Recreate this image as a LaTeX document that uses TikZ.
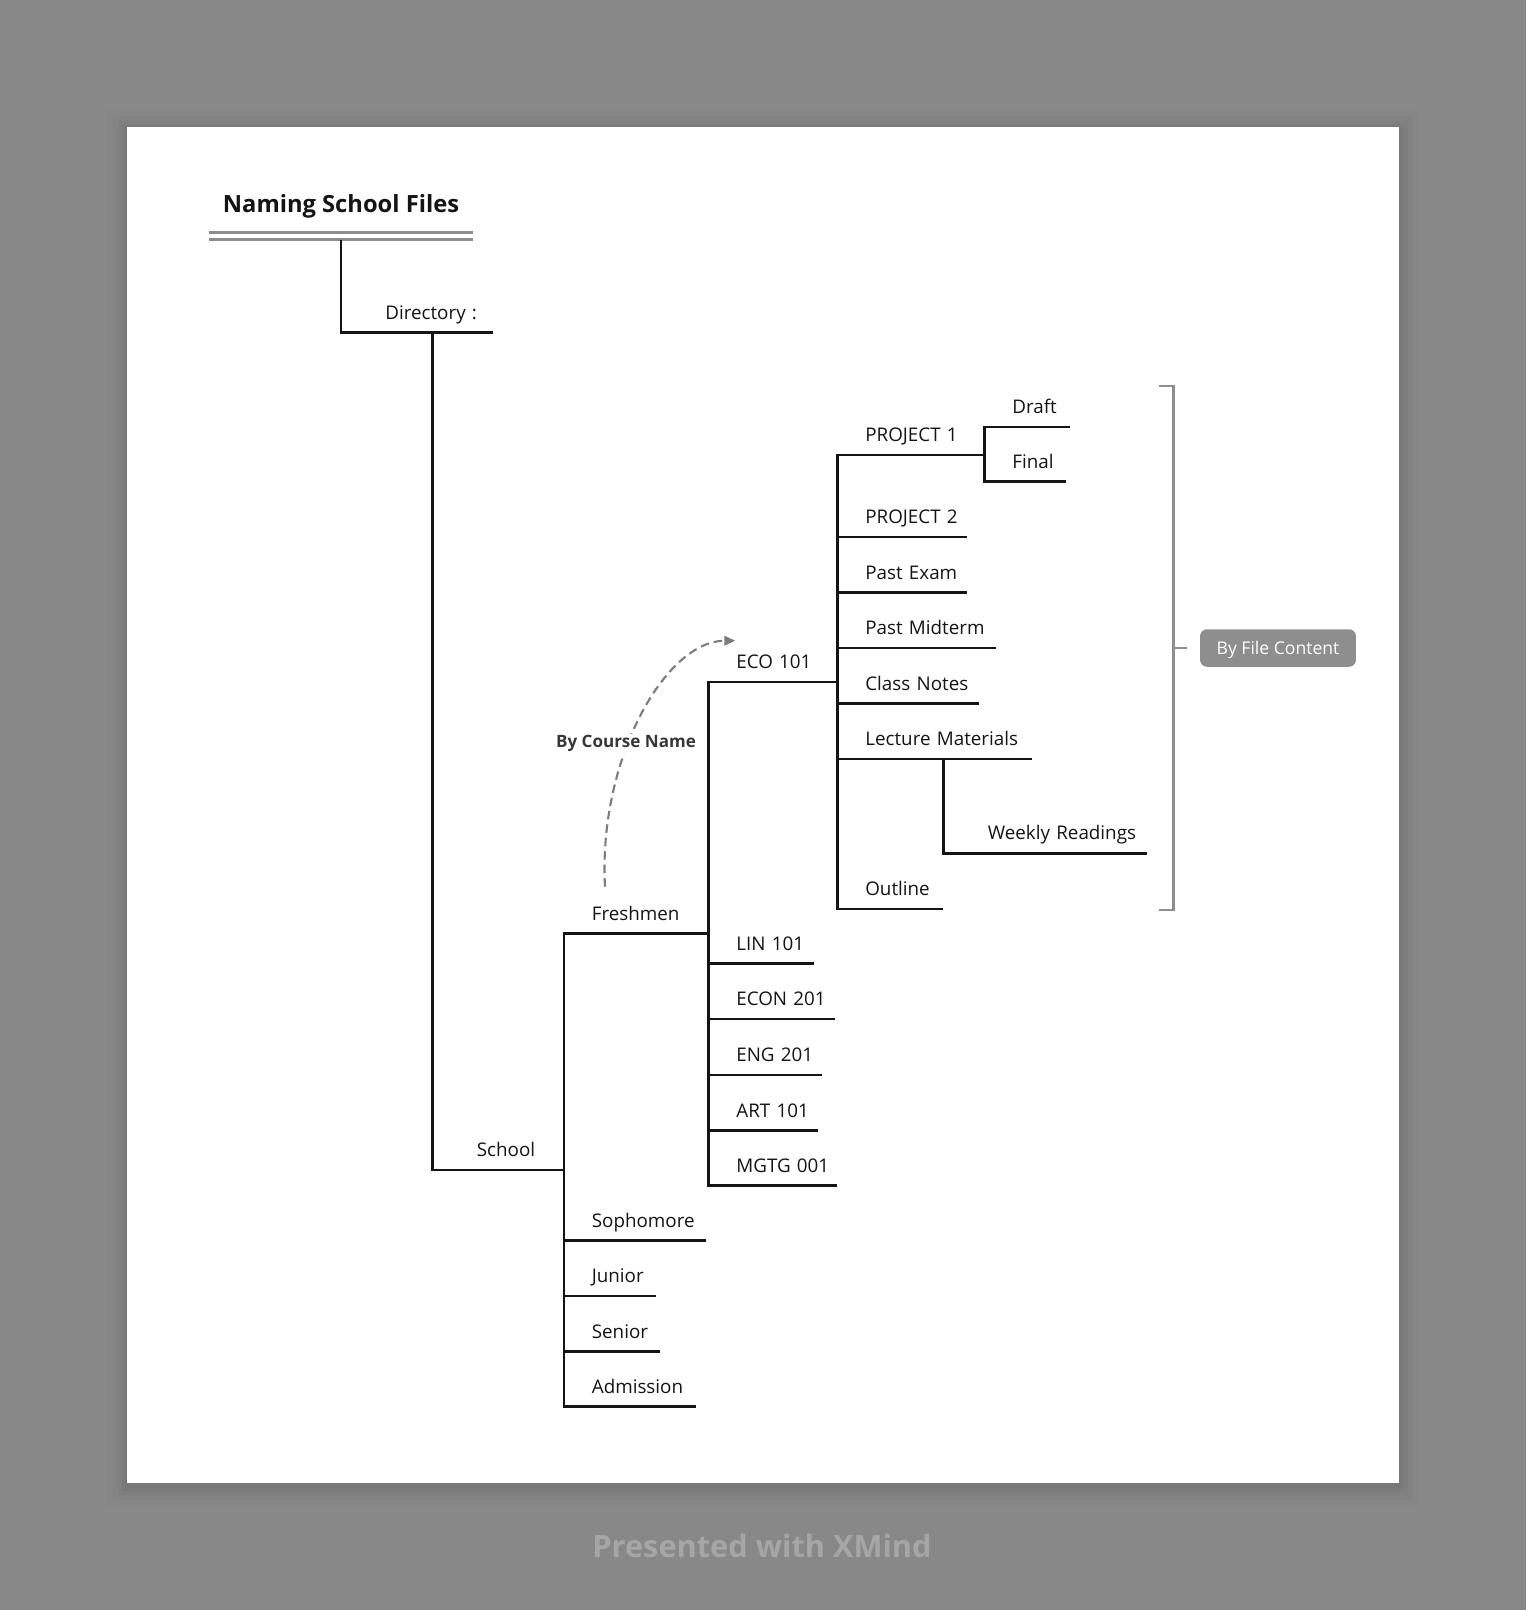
\documentclass[tikz,border=0pt]{standalone}
\usepackage{fontspec}
\setmainfont{Open Sans}
\usepackage{tikz}
\usetikzlibrary{arrows.meta,calc}
\definecolor{canvas}{HTML}{888888}
\definecolor{ink}{HTML}{141414}
\definecolor{rulegray}{HTML}{8E8E8E}
\definecolor{relation}{HTML}{7C7C7C}
\definecolor{creditgray}{HTML}{A6A6A6}
\newcommand{\topicfont}{\fontsize{10.7}{13}\selectfont}

\tikzset{
  branch/.style={ink,line width=0.05cm,line join=miter},
  topicbase/.style={anchor=south west,inner xsep=0pt,inner ysep=0.26cm,text depth=0pt,
    text width=#1,align=left,font=\topicfont,text=ink},
  topic/.style={topicbase=#1,execute at begin node={\hspace*{0.56cm}}},
  firsttopic/.style={topicbase=#1,execute at begin node={\hspace*{0.88cm}}},
  maintitle/.style={anchor=south,minimum width=5.28cm,inner xsep=0pt,inner ysep=0.526cm,
    text depth=0pt,text=ink,font=\bfseries\fontsize{13.5}{16}\selectfont},
  titlerule/.style={rulegray,line width=0.046cm},
  summary/.style={rulegray,line width=0.05cm,line join=miter},
  tag/.style={fill=rulegray,text=white,rounded corners=0.14cm,minimum width=3.12cm,
    minimum height=0.75cm,inner sep=0pt,text height=0.714em,text depth=0pt,
    font=\fontsize{10}{12}\selectfont},
  relarrow/.style={relation,line width=0.042cm,dash pattern=on 0.17cm off 0.1cm,
    -{Triangle[length=0.22cm,width=0.19cm]}},
  rellabel/.style={anchor=base,fill=white,inner sep=1pt,text=ink!85,
    font=\bfseries\fontsize{9.7}{12}\selectfont},
}

\begin{document}
\begin{tikzpicture}[x=0.02cm,y=-0.02cm]
  \useasboundingbox (0,0) rectangle (1526,1610);
  \fill[canvas] (0,0) rectangle (1526,1610);

  % page and its shadow
  \foreach \s/\o in {20/0.012,14/0.018,9/0.022,5/0.028,2/0.03} {
    \fill[black,opacity=\o] (127-\s,127-\s+3) rectangle (1399+\s,1483+\s+3);
  }
  \fill[white] (127,127) rectangle (1399,1483);

  % Title
  \node[maintitle] (title) at (341,239.5) {Naming School Files};
  \draw[titlerule] (title.south west) -- (title.south east);
  \draw[titlerule] ([yshift=0.14cm]title.south west) -- ([yshift=0.14cm]title.south east);

  % Topics
  \node[firsttopic=3.02cm] (dir) at (341,332.7) {Directory :};
  \node[firsttopic=2.62cm] (school) at (432.5,1170) {School};

  \node[topic=2.89cm] (fresh) at (563.5,933.5) {Freshmen};
  \node[topic=2.84cm] (soph) at (563.5,1240.5) {Sophomore};
  \node[topic=1.84cm] (junior) at (563.5,1296) {Junior};
  \node[topic=1.92cm] (senior) at (563.5,1351.7) {Senior};
  \node[topic=2.63cm] (admission) at (563.5,1406.5) {Admission};

  \node[topic=2.58cm] (eco) at (708,681.9) {ECO 101};
  \node[topic=2.11cm] (lin) at (708,963.5) {LIN 101};
  \node[topic=2.53cm] (econ) at (708,1019.2) {ECON 201};
  \node[topic=2.26cm] (eng) at (708,1075.2) {ENG 201};
  \node[topic=2.19cm] (art) at (708,1130.5) {ART 101};
  \node[topic=2.57cm] (mgtg) at (708,1185.5) {MGTG 001};

  \node[topic=2.94cm] (proj1) at (837,454.9) {PROJECT 1};
  \node[topic=2.59cm] (proj2) at (837,537.1) {PROJECT 2};
  \node[topic=2.59cm] (exam) at (837,592.5) {Past Exam};
  \node[topic=3.16cm] (midterm) at (837,648) {Past Midterm};
  \node[topic=2.83cm] (notes) at (837,703.4) {Class Notes};
  \node[topic=3.89cm] (lecture) at (837,759) {Lecture Materials};
  \node[topic=2.10cm] (outline) at (837,908.8) {Outline};

  \node[topic=1.70cm] (draft) at (984,427.2) {Draft};
  \node[topic=1.62cm] (final) at (984,481.6) {Final};
  \node[firsttopic=4.06cm] (weekly) at (943.5,853.3) {Weekly Readings};

  % Branches
  \draw[branch] (title.south) |- (dir.south east);
  \draw[branch] (dir.south -| school.south west) |- (school.south east);
  \foreach \c in {fresh,soph,junior,senior,admission}
    \draw[branch] (school.south east) |- (\c.south east);
  \foreach \c in {eco,lin,econ,eng,art,mgtg}
    \draw[branch] (fresh.south east) |- (\c.south east);
  \foreach \c in {proj1,proj2,exam,midterm,notes,lecture,outline}
    \draw[branch] (eco.south east) |- (\c.south east);
  \foreach \c in {draft,final}
    \draw[branch] (proj1.south east) |- (\c.south east);
  \draw[branch] (lecture.south -| weekly.south west) |- (weekly.south east);

  % Summary
  \coordinate (sumtop) at (1173.3,386);
  \coordinate (sumbot) at (1173.3,909.8);
  \coordinate (summid) at (1173.3,648);
  \draw[summary] ([xshift=-0.29cm]sumtop) -- (sumtop) -- (sumbot) -- ([xshift=-0.29cm]sumbot);
  \draw[summary] (summid) -- ++(14,0);
  \node[tag] (content) at (1278,648) {By File Content};

  % Relationship
  \coordinate (relfrom) at ([shift={(41.5,-46.8)}]fresh.south west);
  \coordinate (relto) at ([shift={(27.3,-41.2)}]eco.south west);
  \draw[relarrow] (relfrom) .. controls +(-7,-126.7) and +(-70,0) .. (relto);
  \node[rellabel] (byname) at (626,747.7) {By Course Name};

  \node[anchor=base,text=creditgray,font=\bfseries\fontsize{17.5}{20}\selectfont] (credit)
    at (762,1557) {Presented with XMind};
\end{tikzpicture}
\end{document}
